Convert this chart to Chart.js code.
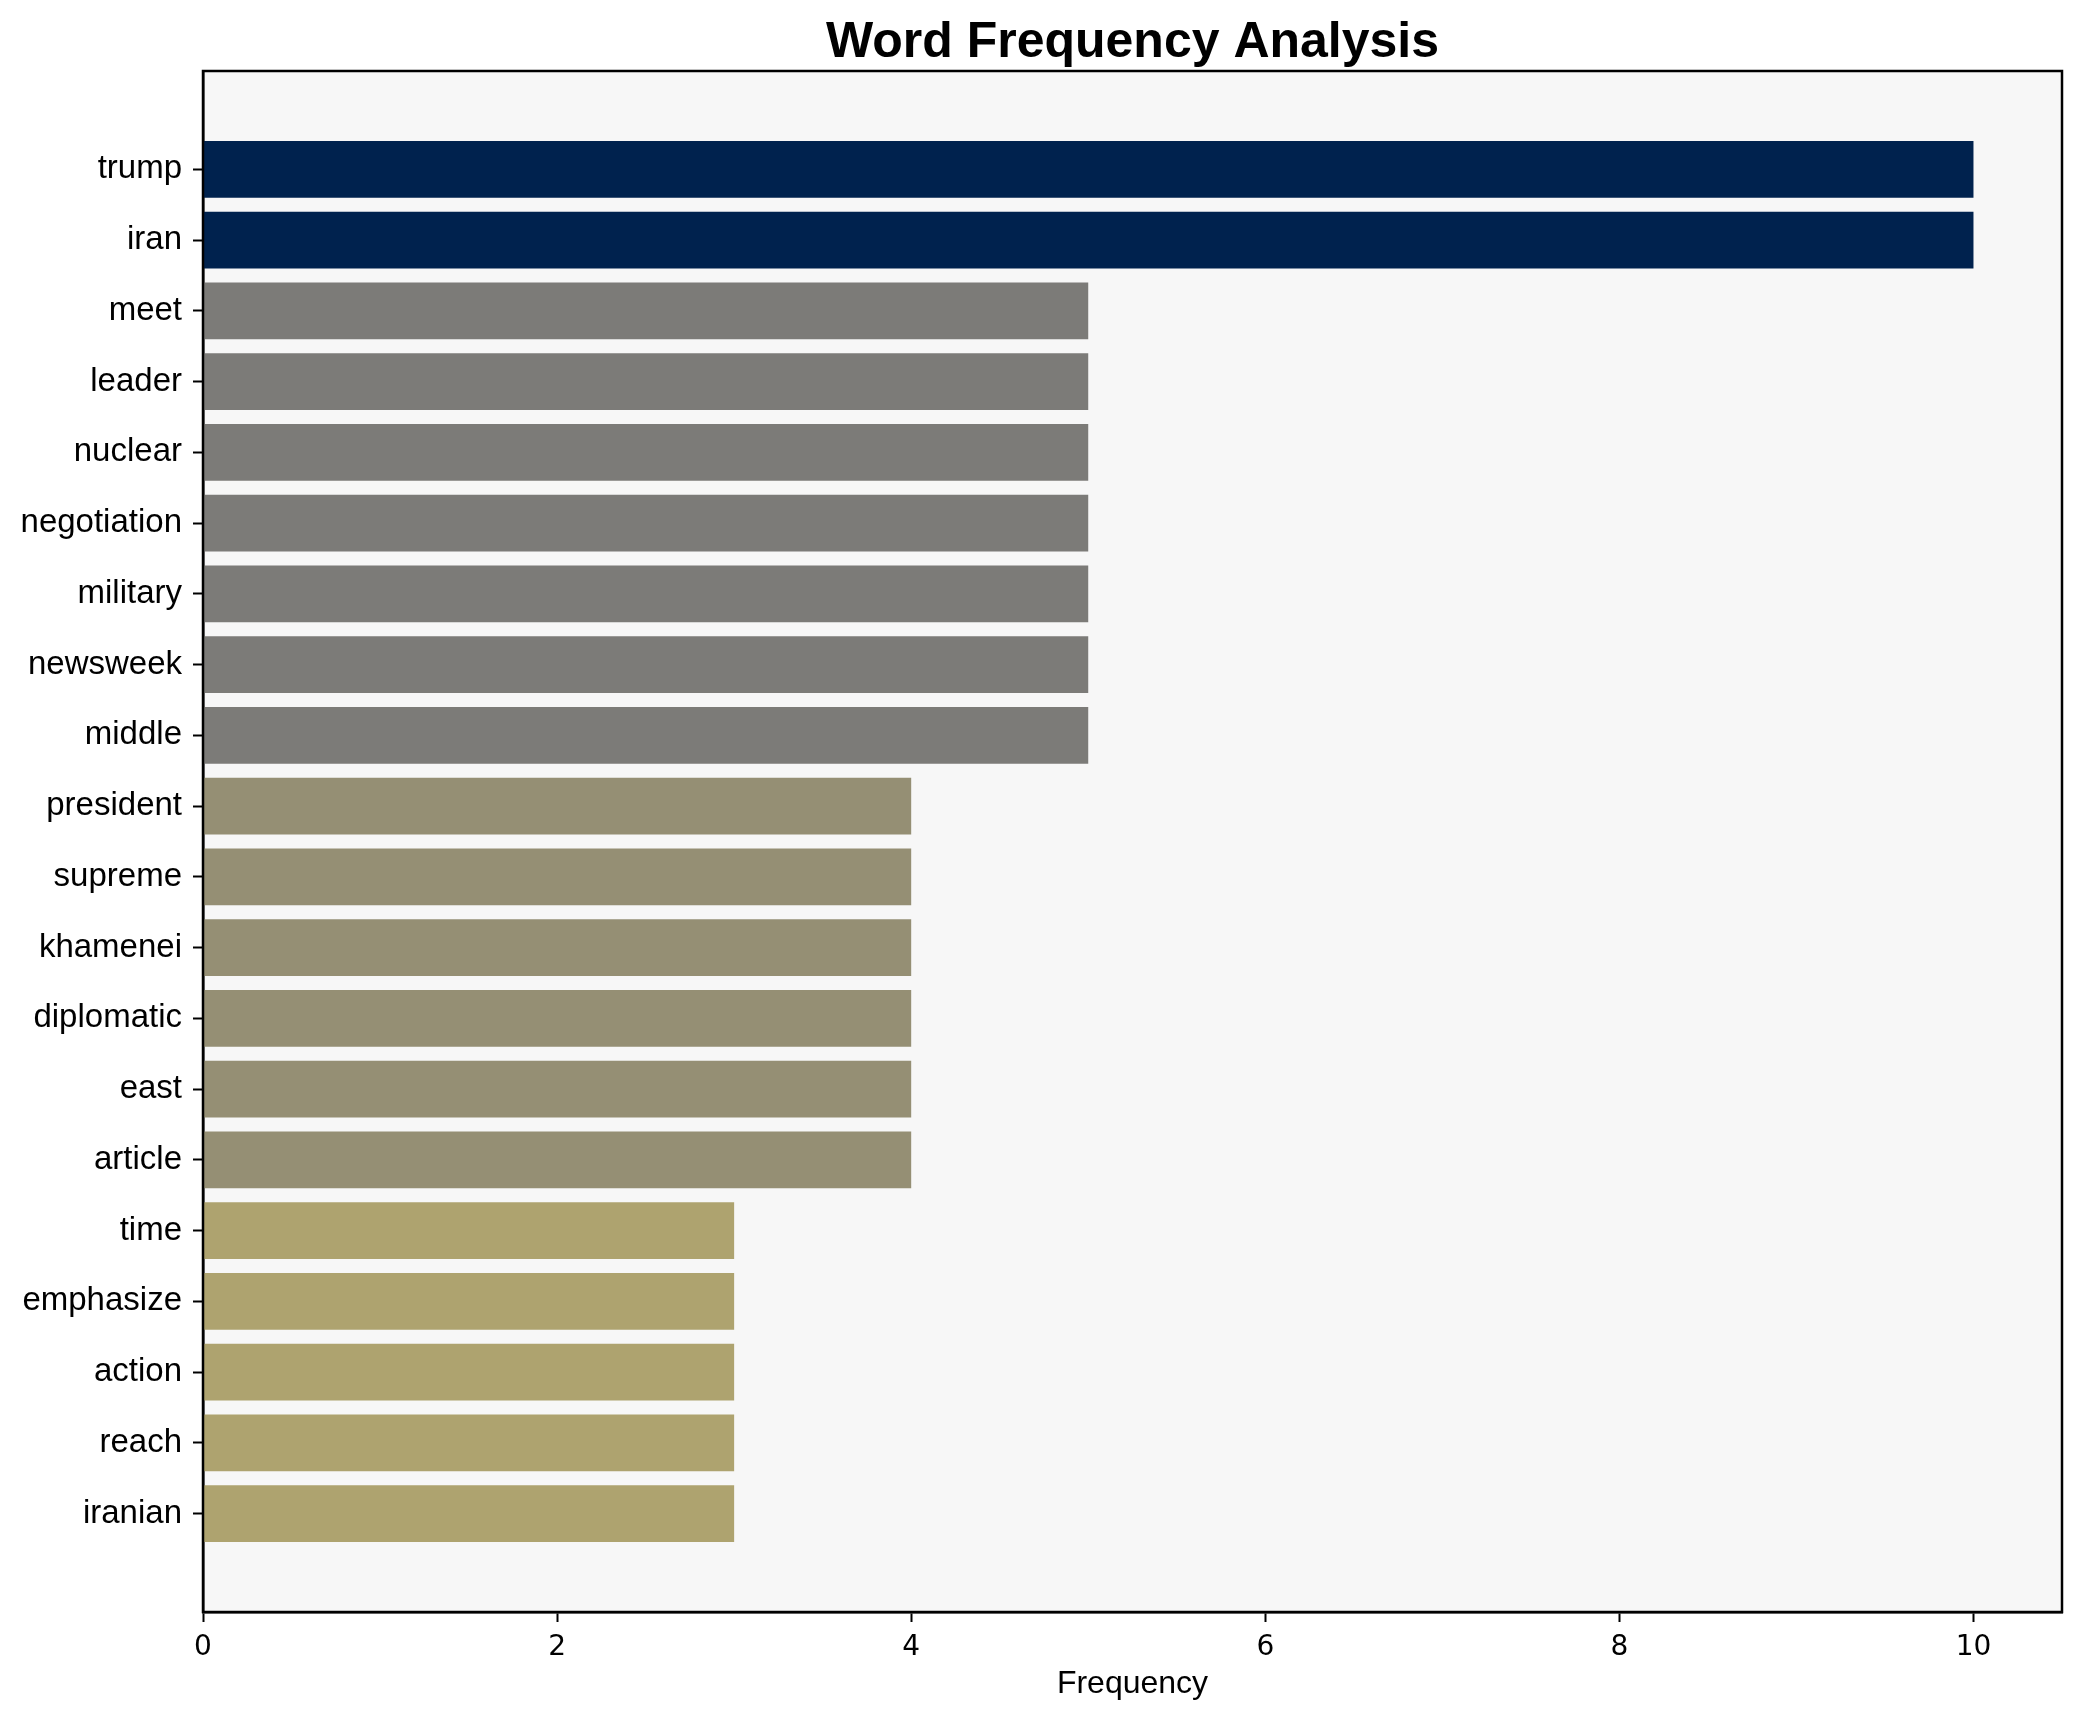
<!DOCTYPE html>
<html lang="en">
<head>
    <meta charset="UTF-8">
    <title>Word Frequency Analysis</title>
    <script src="https://cdn.jsdelivr.net/npm/chart.js"></script>
    <style>
        body {
            margin: 0;
            background: #ffffff;
        }
        #chart-container {
            width: 2082px;
            height: 1722px;
        }
    </style>
</head>
<body>

<div id="chart-container">
    <canvas id="wordChart" width="2082" height="1722"></canvas>
</div>

<script>
    // Words, top to bottom, and how often each one shows up
    const words = ['trump', 'iran', 'meet', 'leader', 'nuclear', 'negotiation', 'military',
        'newsweek', 'middle', 'president', 'supreme', 'khamenei', 'diplomatic', 'east',
        'article', 'time', 'emphasize', 'action', 'reach', 'iranian'];
    const counts = [10, 10, 5, 5, 5, 5, 5, 5, 5, 4, 4, 4, 4, 4, 4, 3, 3, 3, 3, 3];
    const xTicks = [0, 2, 4, 6, 8, 10];

    // colour by frequency (cividis-like)
    const colourFor = { 10: '#00224e', 5: '#7c7b78', 4: '#958f74', 3: '#aea36f' };

    const points = counts.map((c, i) => ({ x: c, y: i }));

    // plot background, the box round it, and the title centred over the plot
    const framePlugin = {
        id: 'frame',
        beforeDraw(chart) {
            const a = chart.chartArea;
            const ctx = chart.ctx;
            ctx.save();
            ctx.fillStyle = '#ffffff';
            ctx.fillRect(0, 0, chart.width, chart.height);
            ctx.fillStyle = '#f7f7f7';
            ctx.fillRect(a.left, a.top, a.right - a.left, a.bottom - a.top);
            ctx.restore();
        },
        afterDraw(chart) {
            const a = chart.chartArea;
            const ctx = chart.ctx;
            ctx.save();
            ctx.strokeStyle = '#000000';
            ctx.lineWidth = 2.5;
            ctx.strokeRect(a.left, a.top, a.right - a.left, a.bottom - a.top);
            ctx.fillStyle = '#000000';
            ctx.font = 'bold 50px "Liberation Sans", Arial, sans-serif';
            ctx.textAlign = 'center';
            ctx.textBaseline = 'alphabetic';
            ctx.fillText('Word Frequency Analysis', (a.left + a.right) / 2, 57);
            ctx.restore();
        }
    };

    const ctx = document.getElementById('wordChart').getContext('2d');
    const wordChart = new Chart(ctx, {
        type: 'bar',
        data: {
            datasets: [{
                data: points,
                backgroundColor: counts.map(c => colourFor[c]),
                borderWidth: 0,
                barPercentage: 0.8,
                categoryPercentage: 1.0
            }]
        },
        options: {
            indexAxis: 'y',
            responsive: false,
            animation: false,
            devicePixelRatio: 1,
            layout: { padding: { top: 71, right: 20, bottom: 0, left: 0 } },
            plugins: {
                legend: { display: false },
                tooltip: { enabled: false },
                title: { display: false }
            },
            scales: {
                x: {
                    type: 'linear',
                    min: 0,
                    max: 10.5,
                    afterBuildTicks(scale) {
                        scale.ticks = xTicks.map(v => ({ value: v }));
                    },
                    afterFit(scale) {
                        scale.height = 110;
                    },
                    ticks: {
                        color: '#000000',
                        padding: 9,
                        font: { family: '"DejaVu Sans", sans-serif', size: 28 }
                    },
                    grid: {
                        drawOnChartArea: false,
                        color: '#000000',
                        tickLength: 10,
                        tickWidth: 2
                    },
                    border: { display: true, color: '#000000', width: 2.5 },
                    title: {
                        display: true,
                        text: 'Frequency',
                        color: '#000000',
                        font: { family: 'Liberation Sans, Arial, sans-serif', size: 32, lineHeight: 1.2 },
                        padding: { top: 0, bottom: 19 }
                    }
                },
                y: {
                    type: 'linear',
                    reverse: true,
                    offset: false,
                    min: -1.39,
                    max: 20.39,
                    afterBuildTicks(scale) {
                        scale.ticks = words.map((w, i) => ({ value: i }));
                    },
                    afterFit(scale) {
                        scale.width = 203;
                    },
                    ticks: {
                        color: '#000000',
                        padding: 11,
                        autoSkip: false,
                        font: { family: 'Liberation Sans, Arial, sans-serif', size: 33 },
                        callback: (v) => words[v]
                    },
                    grid: {
                        offset: false,
                        drawOnChartArea: false,
                        color: '#000000',
                        tickLength: 10,
                        tickWidth: 2
                    },
                    border: { display: true, color: '#000000', width: 2.5 }
                }
            }
        },
        plugins: [framePlugin]
    });
</script>

</body>
</html>
